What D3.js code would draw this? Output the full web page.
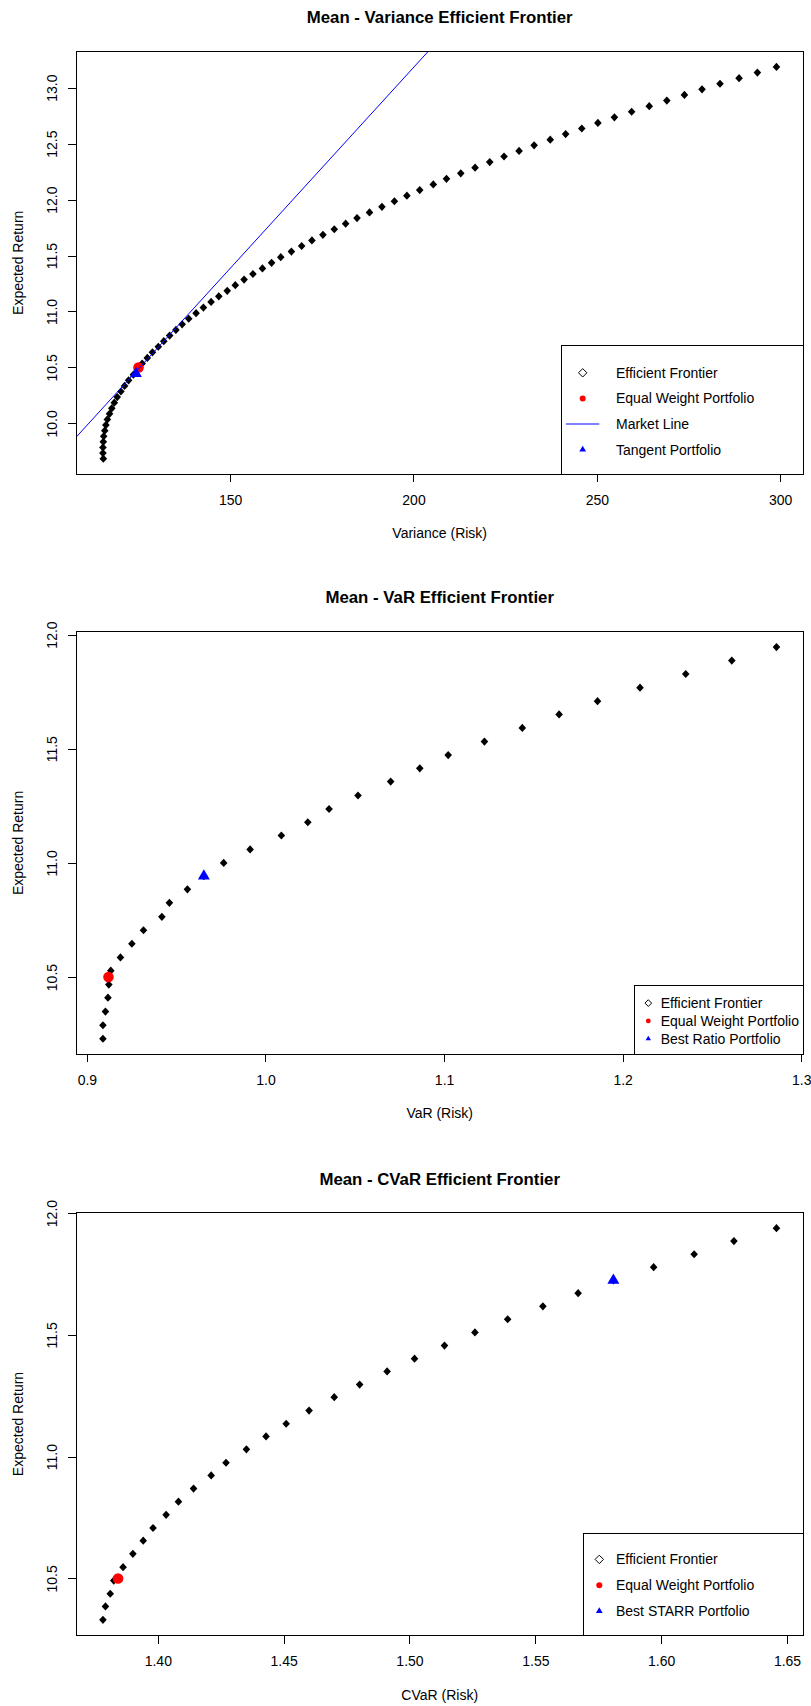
<!DOCTYPE html>
<html>
<head>
<meta charset="utf-8">
<script src="https://cdn.jsdelivr.net/npm/d3@7"></script>
<style>
  body { margin: 0; background: #fff; }
  svg { display: block; }
  text { font-family: "Liberation Sans", Arial, sans-serif; fill: #000; }
</style>
</head>
<body>
<svg id="chart" width="811" height="1706"></svg>
<script>
// ---- Mean - Variance frontier ----
const mvReturn = [9.685, 9.735, 9.785, 9.835, 9.885, 9.935, 9.985, 10.035, 10.085, 10.135,
  10.185, 10.235, 10.285, 10.335, 10.385, 10.435, 10.485, 10.535, 10.585, 10.635,
  10.685, 10.735, 10.785, 10.835, 10.885, 10.935, 10.985, 11.035, 11.085, 11.135,
  11.185, 11.235, 11.285, 11.335, 11.385, 11.435, 11.485, 11.535, 11.585, 11.635,
  11.685, 11.735, 11.785, 11.835, 11.885, 11.935, 11.985, 12.035, 12.085, 12.135,
  12.185, 12.235, 12.285, 12.335, 12.385, 12.435, 12.485, 12.535, 12.585, 12.635,
  12.685, 12.735, 12.785, 12.835, 12.885, 12.935, 12.985, 13.035, 13.085, 13.135, 13.185];
const mvVariance = [115.4, 115.3, 115.3, 115.4, 115.5, 115.8, 116.1, 116.5, 117.1, 117.7,
  118.4, 119.2, 120.2, 121.2, 122.3, 123.6, 124.7, 126.0, 127.4, 128.8,
  130.4, 131.9, 133.5, 135.2, 136.9, 138.7, 140.7, 142.7, 144.8, 146.9,
  149.2, 151.4, 153.8, 156.2, 158.8, 161.3, 163.8, 166.7, 169.5, 172.3,
  175.3, 178.4, 181.5, 184.6, 188.0, 191.4, 194.8, 198.2, 201.7, 205.4,
  209.0, 212.9, 216.8, 220.8, 224.7, 228.8, 232.9, 237.3, 241.5, 245.9,
  250.3, 254.8, 259.5, 264.3, 269.1, 273.9, 278.7, 283.6, 288.8, 293.8, 299.0];
const mvEqualWeight = [125.0, 10.50];
const mvTangent = [124.3, 10.445];
const mvMarketLine = [6.0, 0.0359];          // intercept, slope
const mvTicksX = [150, 200, 250, 300];
const mvTicksY = [10.0, 10.5, 11.0, 11.5, 12.0, 12.5, 13.0];
const mvLegend = ["Efficient Frontier", "Equal Weight Portfolio", "Market Line", "Tangent Portfolio"];

// ---- Mean - VaR frontier ----
const varReturn = [10.230, 10.289, 10.349, 10.410, 10.467, 10.528, 10.586, 10.646, 10.705, 10.764,
  10.825, 10.884, 10.942, 11.000, 11.059, 11.120, 11.178, 11.236, 11.295, 11.356,
  11.414, 11.472, 11.531, 11.591, 11.650, 11.708, 11.767, 11.827, 11.886, 11.945];
const varRisk = [0.9090, 0.9090, 0.9104, 0.9118, 0.9123, 0.9134, 0.9188, 0.9252, 0.9317, 0.9420,
  0.9462, 0.9563, 0.9655, 0.9766, 0.9914, 1.0089, 1.0237, 1.0356, 1.0518, 1.0701,
  1.0864, 1.1023, 1.1226, 1.1438, 1.1644, 1.1859, 1.2097, 1.2353, 1.2611, 1.2861];
const varEqualWeight = [0.9121, 10.500];
const varBestRatio = [0.9655, 10.942];
const varTicksX = [0.9, 1.0, 1.1, 1.2, 1.3];
const varTicksY = [10.5, 11.0, 11.5, 12.0];
const varLegend = ["Efficient Frontier", "Equal Weight Portfolio", "Best Ratio Portfolio"];

// ---- Mean - CVaR frontier ----
const cvarReturn = [10.330, 10.385, 10.437, 10.491, 10.546, 10.601, 10.655, 10.707, 10.761, 10.815,
  10.869, 10.923, 10.975, 11.030, 11.083, 11.135, 11.189, 11.244, 11.296, 11.350,
  11.402, 11.456, 11.510, 11.564, 11.617, 11.671, 11.724, 11.778, 11.831, 11.885, 11.938];
const cvarRisk = [1.3782, 1.3792, 1.3811, 1.3825, 1.3862, 1.3901, 1.3942, 1.3981, 1.4033, 1.4082,
  1.4142, 1.4212, 1.4271, 1.4352, 1.4430, 1.4510, 1.4601, 1.4701, 1.4802, 1.4911,
  1.5020, 1.5139, 1.5260, 1.5390, 1.5530, 1.5670, 1.5810, 1.5970, 1.6131, 1.6289, 1.6458];
const cvarEqualWeight = [1.3842, 10.500];
const cvarBestStarr = [1.5810, 11.724];
const cvarTicksX = [1.40, 1.45, 1.50, 1.55, 1.60, 1.65];
const cvarTicksY = [10.5, 11.0, 11.5, 12.0];
const cvarLegend = ["Efficient Frontier", "Equal Weight Portfolio", "Best STARR Portfolio"];

const yTitle = "Expected Return";

// panel settings assembled from the arrays above
const panels = [
  { title: "Mean - Variance Efficient Frontier", xTitle: "Variance (Risk)",
    risk: mvVariance, ret: mvReturn, ew: mvEqualWeight, special: mvTangent, line: mvMarketLine,
    xTicks: mvTicksX, yTicks: mvTicksY, xFmt: d3.format("d"), legend: mvLegend,
    legendTypes: ["diamond", "dot", "line", "triangle"],
    top: 51.3, lg: { left: 561, height: 128.5, first: 27, step: 25.6, sym: 21.7, txt: 55, scale: 1 } },
  { title: "Mean - VaR Efficient Frontier", xTitle: "VaR (Risk)",
    risk: varRisk, ret: varReturn, ew: varEqualWeight, special: varBestRatio, line: null,
    xTicks: varTicksX, yTicks: varTicksY, xFmt: d3.format(".1f"), legend: varLegend,
    legendTypes: ["diamond", "dot", "triangle"],
    top: 631.4, lg: { left: 634.3, height: 68.6, first: 17.3, step: 17.85, sym: 14, txt: 26.4, scale: 0.8 } },
  { title: "Mean - CVaR Efficient Frontier", xTitle: "CVaR (Risk)",
    risk: cvarRisk, ret: cvarReturn, ew: cvarEqualWeight, special: cvarBestStarr, line: null,
    xTicks: cvarTicksX, yTicks: cvarTicksY, xFmt: d3.format(".2f"), legend: cvarLegend,
    legendTypes: ["diamond", "dot", "triangle"],
    top: 1212.5, lg: { left: 583, height: 102.2, first: 26.1, step: 25.85, sym: 16.3, txt: 33, scale: 1 } }
];

const svg = d3.select("#chart");
const L = 76, R = 803.4, H = 423;
const FS = 14;

// axis range padded by 4% on each side
function padded(values) {
  const [lo, hi] = d3.extent(values);
  const d = (hi - lo) * 0.04;
  return [lo - d, hi + d];
}

function diamondPath(cx, cy, w, h) {
  return `M${cx},${cy - h}L${cx + w},${cy}L${cx},${cy + h}L${cx - w},${cy}Z`;
}

panels.forEach((p, i) => {
  const top = p.top, bottom = top + H;
  const x = d3.scaleLinear().domain(padded(p.risk)).range([L, R]);
  const y = d3.scaleLinear().domain(padded(p.ret)).range([bottom, top]);
  const g = svg.append("g");

  const clipId = "clip" + i;
  svg.append("clipPath").attr("id", clipId)
    .append("rect").attr("x", L).attr("y", top).attr("width", R - L).attr("height", H);

  // title
  g.append("text").attr("x", (L + R) / 2).attr("y", top - 28)
    .attr("text-anchor", "middle").attr("font-size", 16.8).attr("font-weight", "bold")
    .text(p.title);

  // frontier points
  const pts = p.risk.map((r, k) => [r, p.ret[k]]);
  g.append("g").selectAll("path").data(pts).join("path")
    .attr("d", d => diamondPath(x(d[0]), y(d[1]), 3.8, 4.1))
    .attr("fill", "#000");

  // equal weight portfolio
  g.append("circle").attr("cx", x(p.ew[0])).attr("cy", y(p.ew[1])).attr("r", 5.3)
    .attr("fill", "#ff0000");

  // market line
  if (p.line) {
    const [a, b] = p.line;
    const [x0, x1] = x.domain();
    g.append("line").attr("clip-path", `url(#${clipId})`)
      .attr("x1", x(x0)).attr("y1", y(a + b * x0))
      .attr("x2", x(x1)).attr("y2", y(a + b * x1))
      .attr("stroke", "#0000ff").attr("stroke-width", 1);
  }

  // highlighted portfolio
  g.append("path")
    .attr("d", d3.symbol(d3.symbolTriangle, 62)())
    .attr("transform", `translate(${x(p.special[0])},${y(p.special[1])})`)
    .attr("fill", "#0000ff");

  // axes
  const xa = g.append("g").attr("transform", `translate(0,${bottom})`)
    .call(d3.axisBottom(x).tickValues(p.xTicks).tickFormat(p.xFmt).tickSize(8).tickSizeOuter(0).tickPadding(12.7));
  const ya = g.append("g").attr("transform", `translate(${L},0)`)
    .call(d3.axisLeft(y).tickValues(p.yTicks).tickFormat(d3.format(".1f")).tickSize(8).tickSizeOuter(0));
  [xa, ya].forEach(a => {
    a.attr("font-family", null).attr("font-size", null);
    a.select(".domain").remove();
    a.selectAll("line").attr("stroke", "#000").attr("shape-rendering", "crispEdges");
    a.selectAll("text").attr("font-size", FS).attr("fill", "#000");
  });
  ya.selectAll("text")
    .attr("x", null).attr("dy", null).attr("text-anchor", "middle")
    .attr("transform", "translate(-19,0) rotate(-90)");

  // plot frame
  g.append("rect").attr("x", L).attr("y", top).attr("width", R - L).attr("height", H)
    .attr("fill", "none").attr("stroke", "#000").attr("shape-rendering", "crispEdges");

  // axis titles
  g.append("text").attr("x", (L + R) / 2).attr("y", bottom + 64)
    .attr("text-anchor", "middle").attr("font-size", FS).text(p.xTitle);
  g.append("text")
    .attr("transform", `translate(22.5,${(top + bottom) / 2}) rotate(-90)`)
    .attr("text-anchor", "middle").attr("font-size", FS).text(yTitle);

  // legend
  const lg = p.lg;
  const lgTop = bottom - lg.height;
  const leg = g.append("g");
  leg.append("rect").attr("x", lg.left).attr("y", lgTop).attr("width", R - lg.left).attr("height", lg.height)
    .attr("fill", "#fff").attr("stroke", "#000").attr("shape-rendering", "crispEdges");
  const s = lg.scale;
  p.legend.forEach((label, k) => {
    const cy = lgTop + lg.first + k * lg.step;
    const cx = lg.left + lg.sym;
    const t = p.legendTypes[k];
    if (t === "diamond") {
      leg.append("path").attr("d", diamondPath(cx, cy, 4.2 * s, 4.2 * s))
        .attr("fill", "none").attr("stroke", "#000").attr("stroke-width", 1);
    } else if (t === "dot") {
      leg.append("circle").attr("cx", cx).attr("cy", cy).attr("r", 3 * s).attr("fill", "#ff0000");
    } else if (t === "line") {
      leg.append("line").attr("x1", lg.left + 5).attr("x2", lg.left + 38.3)
        .attr("y1", cy).attr("y2", cy).attr("stroke", "#0000ff");
    } else if (t === "triangle") {
      leg.append("path").attr("d", d3.symbol(d3.symbolTriangle, 20 * s * s)())
        .attr("transform", `translate(${cx},${cy})`).attr("fill", "#0000ff");
    }
    leg.append("text").attr("x", lg.left + lg.txt).attr("y", cy + 5)
      .attr("font-size", FS).text(label);
  });
});
</script>
</body>
</html>
